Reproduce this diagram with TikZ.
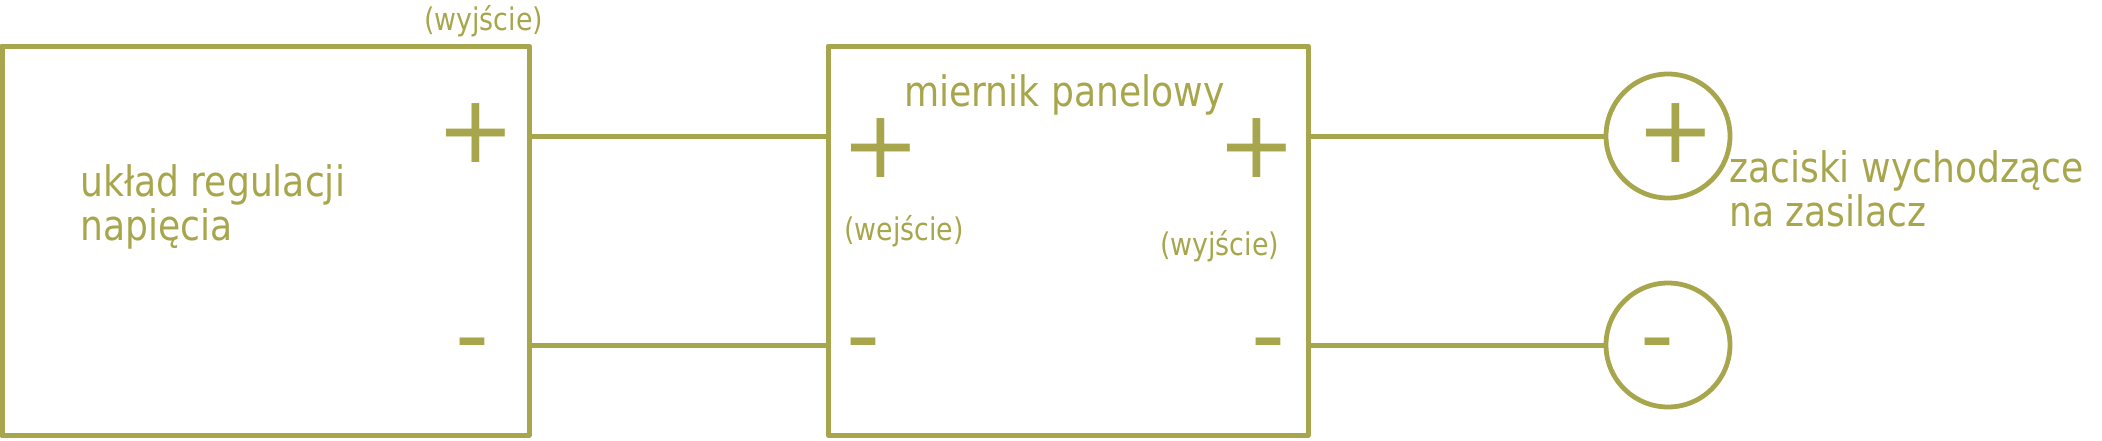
\documentclass[tikz,border=0pt]{standalone}
\usepackage{fontspec}
\setmainfont{DejaVu Sans}[FakeStretch=0.86]
\newfontfamily\znakfont{DejaVu Sans}
\definecolor{oliwka}{RGB}{168,166,76}
\tikzset{
  blok/.style={draw=oliwka, line width=5pt, line join=round, rectangle, inner sep=0pt, minimum width=#1, minimum height=389pt},
  zacisk/.style={draw=oliwka, line width=4.8pt, circle, inner sep=0pt, minimum size=124pt},
  przewod/.style={draw=oliwka, line width=5pt},
  znak/.style={text=oliwka, inner sep=0pt, anchor=base, font=\znakfont\fontsize{94}{94}\selectfont},
  opis/.style={text=oliwka, inner sep=0pt, anchor=base west, align=left, font=\fontsize{42}{44}\selectfont},
  uwaga/.style={text=oliwka, inner sep=0pt, anchor=base west, font=\fontsize{31.2}{34}\selectfont}
}
\begin{document}
\begin{tikzpicture}[x=1pt,y=1pt]
\useasboundingbox (0,0) rectangle (2102,-440);
% Boxes and terminals
\node[blok=527pt] (reg) at (265.5,-240.5) {};
\node[blok=480pt] (mier) at (1068,-240.5) {};
\node[zacisk] (zplus) at (1668,-136) {};
\node[zacisk] (zminus) at (1668,-345) {};
% Heights of the two wires
\coordinate (ya) at (0,-136);
\coordinate (yb) at (0,-345);
% Wires
\draw[przewod] (reg.east |- ya) -- (mier.west |- ya);
\draw[przewod] (reg.east |- yb) -- (mier.west |- yb);
\draw[przewod] (mier.east |- ya) -- (zplus.west);
\draw[przewod] (mier.east |- yb) -- (zminus.west);
% Signs
\node[znak] (regP) at (476,-162) {+};
\node[znak] (regM) at (472,-367) {-};
\node[znak] (mierWeP) at (881,-177) {+};
\node[znak] (mierWyP) at (1257,-177) {+};
\node[znak] (mierWeM) at (863,-367) {-};
\node[znak] (mierWyM) at (1268,-367) {-};
\node[znak] (zP) at (1676,-162) {+};
\node[znak] (zM) at (1657.5,-367) {-};
% Labels
\node[uwaga] (regWy) at (424,-30) {(wyjście)};
\node[opis] (regOpis) at (80,-240) {układ regulacji\\napięcia};
\node[opis] (mierOpis) at (904,-106) {miernik panelowy};
\node[uwaga] (mierWe) at (844,-240) {(wejście)};
\node[uwaga] (mierWy) at (1160,-255) {(wyjście)};
\node[opis] (zOpis) at (1729,-226) {zaciski wychodzące\\na zasilacz};
\end{tikzpicture}
\end{document}
